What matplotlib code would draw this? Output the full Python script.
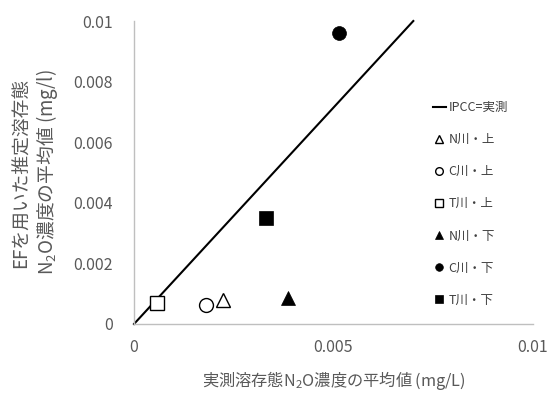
import matplotlib
matplotlib.use('Agg')
import matplotlib.pyplot as plt

plt.rcParams['font.family'] = ['Noto Sans CJK JP', 'DejaVu Sans']
plt.rcParams['mathtext.fontset'] = 'custom'
plt.rcParams['mathtext.rm'] = 'Noto Sans CJK JP'
plt.rcParams['mathtext.it'] = 'Noto Sans CJK JP'
plt.rcParams['mathtext.default'] = 'regular'

# data
labels = ['N川・上', 'C川・上', 'T川・上', 'N川・下', 'C川・下', 'T川・下']
measured = [0.00223, 0.00180, 0.00058, 0.00386, 0.00514, 0.00331]   # x
estimated = [0.00080, 0.00064, 0.00068, 0.00086, 0.00961, 0.00350]  # y
ipcc_x = [0, 0.007]
ipcc_y = [0, 0.01]

# marker style per series
markers = ['^', 'o', 's', '^', 'o', 's']
filled = [False, False, False, True, True, True]

grey = '#595959'
width_px, height_px, dpi = 550, 394, 100

fig = plt.figure(figsize=(width_px / dpi, height_px / dpi), dpi=dpi)
ax = fig.add_axes([134 / 550, 1 - 324 / 394, 399 / 550, 303 / 394])

ax.plot(ipcc_x, ipcc_y, color='black', lw=1.5, label='IPCC=実測', clip_on=False)
for lab, x, y, m, f in zip(labels, measured, estimated, markers, filled):
    ax.plot(x, y, linestyle='none', marker=m, markersize=10,
            markerfacecolor='black' if f else 'white',
            markeredgecolor='black', markeredgewidth=1.0 if not f else 0.5,
            label=lab, clip_on=False)

ax.set_xlim(0, 0.01)
ax.set_ylim(0, 0.01)
ax.set_xticks([0, 0.005, 0.01])
ax.set_xticklabels(['0', '0.005', '0.01'])
ax.set_yticks([0, 0.002, 0.004, 0.006, 0.008, 0.01])
ax.set_yticklabels(['0', '0.002', '0.004', '0.006', '0.008', '0.01'])
ax.tick_params(length=0, labelsize=11.5, labelcolor=grey)
ax.tick_params(axis='y', pad=15)
ax.tick_params(axis='x', pad=11)

for s in ['top', 'right']:
    ax.spines[s].set_visible(False)
for s in ['left', 'bottom']:
    ax.spines[s].set_color('#bfbfbf')
    ax.spines[s].set_linewidth(1.0)

ax.set_xlabel('実測溶存態N$_2$O濃度の平均値 (mg/L)', fontsize=11.7, color=grey, labelpad=9)
ax.set_ylabel('EFを用いた推定溶存態\nN$_2$O濃度の平均値 (mg/l)', fontsize=13.5,
              color=grey, labelpad=10, linespacing=1.1)

leg = ax.legend(loc='upper left', bbox_to_anchor=(433 / 550, 1 - 101 / 394),
                bbox_transform=fig.transFigure, frameon=False, fontsize=9,
                handlelength=1.0, handletextpad=0.25, labelspacing=1.53,
                borderpad=0, borderaxespad=0, markerscale=0.55)
for t in leg.get_texts():
    t.set_color('#404040')

fig.savefig('out.png', dpi=dpi)
